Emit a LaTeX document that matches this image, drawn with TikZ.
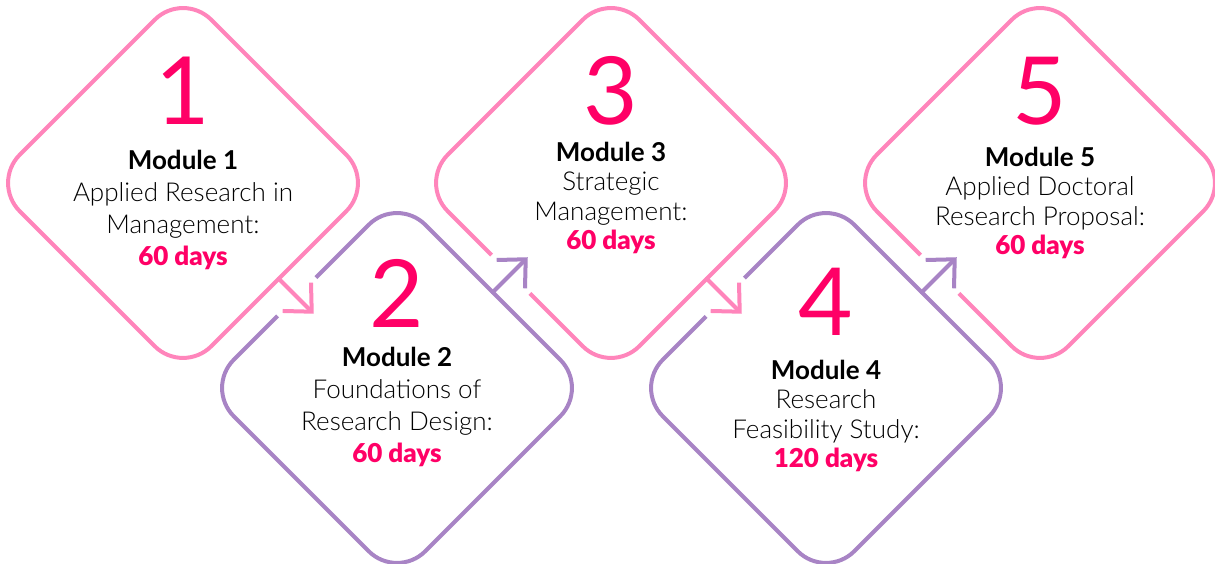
\documentclass[tikz,border=0pt]{standalone}
\usepackage{fontspec}
\setmainfont{Lato}[UprightFont=* Light,BoldFont=* Bold]
\newfontfamily\heavyfont{Lato Black}
\newfontfamily\numfont{Lato}
\usetikzlibrary{shapes.geometric,arrows.meta}
\definecolor{pinkline}{RGB}{255,133,187}
\definecolor{purpleline}{RGB}{168,132,197}
\definecolor{dayspink}{RGB}{255,0,102}
\newcommand{\days}[1]{\textcolor{dayspink}{\heavyfont #1}}
\begin{document}
\begin{tikzpicture}
  [x=1pt,y=1pt,
   pinkmod/.style={diamond,draw=pinkline,line width=4pt,rounded corners=40pt,aspect=1,
                   minimum width=383pt,minimum height=383pt,inner sep=0,outer sep=0},
   purplemod/.style={diamond,draw=purpleline,line width=4pt,rounded corners=40pt,aspect=1,
                     minimum width=383pt,minimum height=383pt,inner sep=0,outer sep=0},
   number/.style={text=dayspink,font=\numfont\fontsize{94}{94}\selectfont,inner sep=0},
   module/.style={align=center,font=\fontsize{26}{32}\selectfont,inner sep=0,anchor=base},
   tight/.style={font=\fontsize{26}{29.5}\selectfont},
   pinkarrow/.style={draw=pinkline,line width=4pt,line cap=round,
                     -{Straight Barb[length=21pt,width=40pt]},
                     preaction={draw=white,line width=54pt,line cap=butt,shorten <=12pt,-}},
   purplearrow/.style={draw=purpleline,line width=4pt,line cap=round,
                       -{Straight Barb[length=21pt,width=40pt]},
                       preaction={draw=white,line width=54pt,line cap=butt,shorten <=12pt,-}}]
  \useasboundingbox (0,0) rectangle (1215,564);
  \node[pinkmod] (m1) at (183,381) {};
  \node[purplemod] (m2) at (397,176) {};
  \node[pinkmod] (m3) at (611,381) {};
  \node[purplemod] (m4) at (826,176) {};
  \node[pinkmod] (m5) at (1040,381) {};
  \node[number] (n1) at ([yshift=92pt]m1.center) {1};
  \node[number] (n2) at ([yshift=95pt]m2.center) {2};
  \node[number] (n3) at ([yshift=92pt]m3.center) {3};
  \node[number] (n4) at ([yshift=86pt]m4.center) {4};
  \node[number] (n5) at ([yshift=92pt]m5.center) {5};
  % text sits on the baseline of its last line
  \node[module] (t1) at ([yshift=-83pt]m1.center)
    {\textbf{Module 1}\\Applied Research in\\Management:\\\days{60 days}};
  \node[module] (t2) at ([yshift=-75pt]m2.center)
    {\textbf{Module 2}\\Foundations of\\Research Design:\\\days{60 days}};
  \node[module,tight] (t3) at ([yshift=-67pt]m3.center)
    {\textbf{Module 3}\\Strategic\\Management:\\\days{60 days}};
  \node[module,tight] (t4) at ([yshift=-80pt]m4.center)
    {\textbf{Module 4}\\Research\\Feasibility Study:\\\days{120 days}};
  \node[module,tight] (t5) at ([yshift=-72pt]m5.center)
    {\textbf{Module 5}\\Applied Doctoral\\Research Proposal:\\\days{60 days}};
  % arrow tips inside the next module
  \coordinate (a12) at ([shift={(35,-35)}]m1.south east);
  \coordinate (a23) at ([shift={(35,35)}]m2.north east);
  \coordinate (a34) at ([shift={(35,-35)}]m3.south east);
  \coordinate (a45) at ([shift={(35,35)}]m4.north east);
  \draw[pinkarrow] (m1.south east) to (a12);
  \draw[purplearrow] (m2.north east) to (a23);
  \draw[pinkarrow] (m3.south east) to (a34);
  \draw[purplearrow] (m4.north east) to (a45);
\end{tikzpicture}
\end{document}
